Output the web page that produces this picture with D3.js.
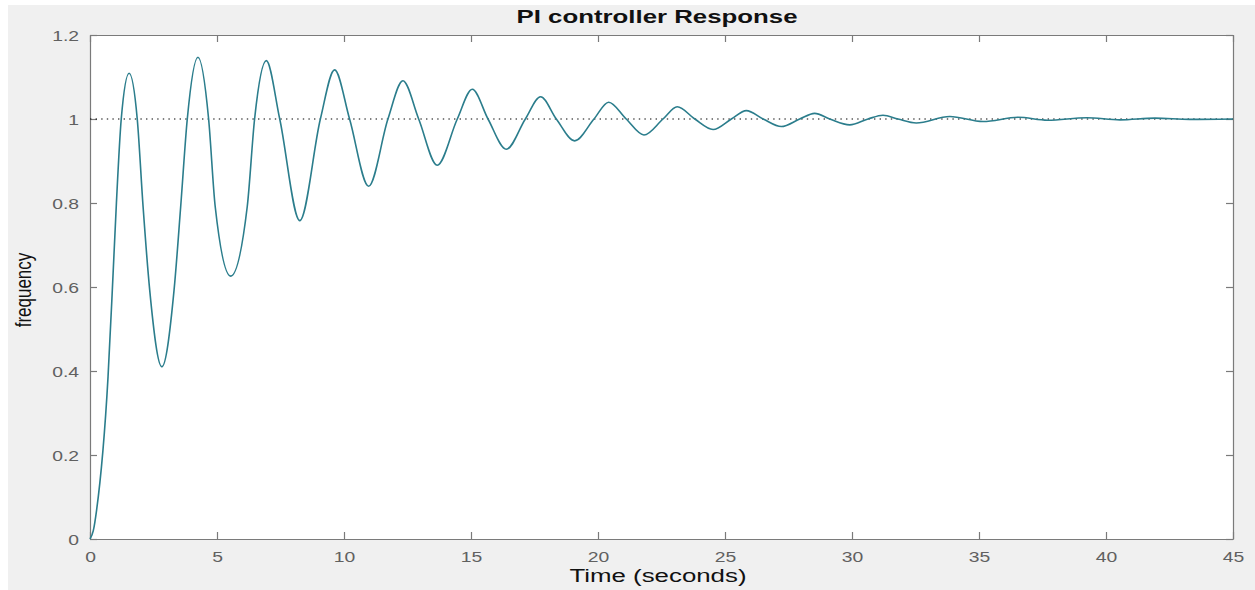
<!DOCTYPE html>
<html>
<head>
<meta charset="utf-8">
<script src="https://cdn.jsdelivr.net/npm/d3@7"></script>
<style>
  html, body { margin: 0; padding: 0; background: #ffffff; }
  svg { display: block; }
</style>
</head>
<body>
<svg id="chart" width="1255" height="590"></svg>
<script>
// ---- Data ----
const title = "PI controller Response";
const xLabel = "Time (seconds)";
const yLabel = "frequency";
const xTicks = [0, 5, 10, 15, 20, 25, 30, 35, 40, 45];
const yTicks = [0, 0.2, 0.4, 0.6, 0.8, 1, 1.2];
const referenceLevel = 1;

// Time (s) of sampled points along the response
const timeValues = [
  0, 0.13, 0.26, 0.71, 0.91, 1.04, 1.23, 1.54, 1.86, 2.09, 2.35, 2.83,
  3.31, 3.57, 3.83, 4.25, 4.67, 4.93, 5.54, 6.19, 6.48, 6.94, 7.47, 8.26,
  9.07, 9.63, 10.22, 10.97, 11.73, 12.32, 12.94, 13.67, 14.46, 15.05, 15.67, 16.39,
  17.14, 17.74, 18.36, 19.08, 19.84, 20.42, 21.11, 21.81, 22.56, 23.12, 23.81, 24.53,
  25.25, 25.84, 26.5, 27.22, 27.94, 28.53, 29.12, 29.91, 30.63, 31.22, 31.81, 32.53,
  33.85, 35.16, 36.54, 37.7, 39.24, 40.55, 41.93, 43.3, 45
];
// Response value at those times
const responseValues = [
  0, 0.02, 0.069, 0.386, 0.633, 0.80, 1.0, 1.109, 1.0, 0.791, 0.593, 0.410,
  0.593, 0.791, 1.0, 1.147, 1.0, 0.791, 0.626, 0.791, 1.0, 1.139, 1.0, 0.758,
  1.0, 1.117, 1.0, 0.840, 1.0, 1.091, 1.0, 0.890, 1.0, 1.071, 1.0, 0.928,
  1.0, 1.053, 1.0, 0.948, 1.0, 1.040, 1.0, 0.962, 1.0, 1.029, 1.0, 0.975,
  1.0, 1.020, 1.0, 0.982, 1.0, 1.0135, 1.0, 0.986, 1.0, 1.009, 1.0, 0.9905,
  1.006, 0.994, 1.004, 0.997, 1.003, 0.998, 1.002, 0.999, 1.0
];

// ---- Layout ----
const W = 1255, H = 590;
const plot = { left: 90, right: 1233, top: 35, bottom: 539 };
const stretch = 1.38; // horizontal stretch of the reference typography

const svg = d3.select("#chart");

// figure background
svg.append("rect").attr("x", 8).attr("y", 5).attr("width", W - 8).attr("height", H - 5)
  .attr("fill", "#f0f0f0");

// plot area
svg.append("rect")
  .attr("x", plot.left).attr("y", plot.top)
  .attr("width", plot.right - plot.left).attr("height", plot.bottom - plot.top)
  .attr("fill", "#ffffff");

const x = d3.scaleLinear().domain([0, 45]).range([plot.left, plot.right]);
const y = d3.scaleLinear().domain([0, 1.2]).range([plot.bottom, plot.top]);

const axisColor = "#7a7a7a";
const textColor = "#606060";
const font = "Liberation Sans, Arial, Helvetica, sans-serif";

function styleAxis(g) {
  g.select(".domain").attr("stroke", axisColor).attr("stroke-width", 1.2);
  g.selectAll(".tick line").attr("stroke", axisColor).attr("stroke-width", 1.2);
}

// bottom axis
const gx = svg.append("g").attr("transform", `translate(0,${plot.bottom})`)
  .call(d3.axisBottom(x).tickValues(xTicks).tickSize(-7).tickSizeOuter(0).tickFormat(d3.format("d")));
styleAxis(gx);
gx.selectAll(".tick text")
  .attr("y", 13).attr("dy", "0.71em")
  .attr("transform", `scale(${stretch},1)`)
  .attr("fill", textColor).attr("font-size", 14).attr("font-family", font);

// top axis (ticks only)
const gxt = svg.append("g").attr("transform", `translate(0,${plot.top})`)
  .call(d3.axisTop(x).tickValues(xTicks).tickSize(-7).tickSizeOuter(0).tickFormat(""));
styleAxis(gxt);

// left axis
const gy = svg.append("g").attr("transform", `translate(${plot.left},0)`)
  .call(d3.axisLeft(y).tickValues(yTicks).tickSize(-7).tickSizeOuter(0).tickFormat(d => d3.format("~g")(d)));
styleAxis(gy);
gy.selectAll(".tick text")
  .attr("x", -11 / stretch).attr("dy", "0.36em")
  .attr("transform", `scale(${stretch},1)`)
  .attr("fill", textColor).attr("font-size", 14).attr("font-family", font);

// right axis (ticks only)
const gyr = svg.append("g").attr("transform", `translate(${plot.right},0)`)
  .call(d3.axisRight(y).tickValues(yTicks).tickSize(-7).tickSizeOuter(0).tickFormat(""));
styleAxis(gyr);

// reference dotted line at 1
svg.append("line")
  .attr("x1", x(0)).attr("x2", x(45))
  .attr("y1", y(referenceLevel)).attr("y2", y(referenceLevel))
  .attr("stroke", "#000").attr("stroke-width", 1.2)
  .attr("stroke-dasharray", "1.4,4.2");

// response curve
const data = timeValues.map((t, i) => ({ t, v: responseValues[i] }));
const line = d3.line().x(d => x(d.t)).y(d => y(d.v)).curve(d3.curveMonotoneX);
svg.append("path").datum(data)
  .attr("d", line)
  .attr("fill", "none")
  .attr("stroke", "#2b7d8c")
  .attr("stroke-width", 1.6);

// title
svg.append("text")
  .attr("x", 657).attr("y", 23)
  .attr("text-anchor", "middle")
  .attr("font-family", font).attr("font-weight", "bold").attr("font-size", 18)
  .attr("textLength", 281).attr("lengthAdjust", "spacingAndGlyphs")
  .attr("fill", "#111")
  .text(title);

// x label
svg.append("text")
  .attr("x", 658).attr("y", 582)
  .attr("text-anchor", "middle")
  .attr("font-family", font).attr("font-size", 18)
  .attr("textLength", 177).attr("lengthAdjust", "spacingAndGlyphs")
  .attr("fill", "#111")
  .text(xLabel);

// y label (glyphs stretched across, like the reference)
svg.append("text")
  .attr("transform", "translate(31,290) scale(1.3,1) rotate(-90)")
  .attr("text-anchor", "middle")
  .attr("font-family", font).attr("font-size", 17)
  .attr("fill", "#111")
  .text(yLabel);
</script>
</body>
</html>
